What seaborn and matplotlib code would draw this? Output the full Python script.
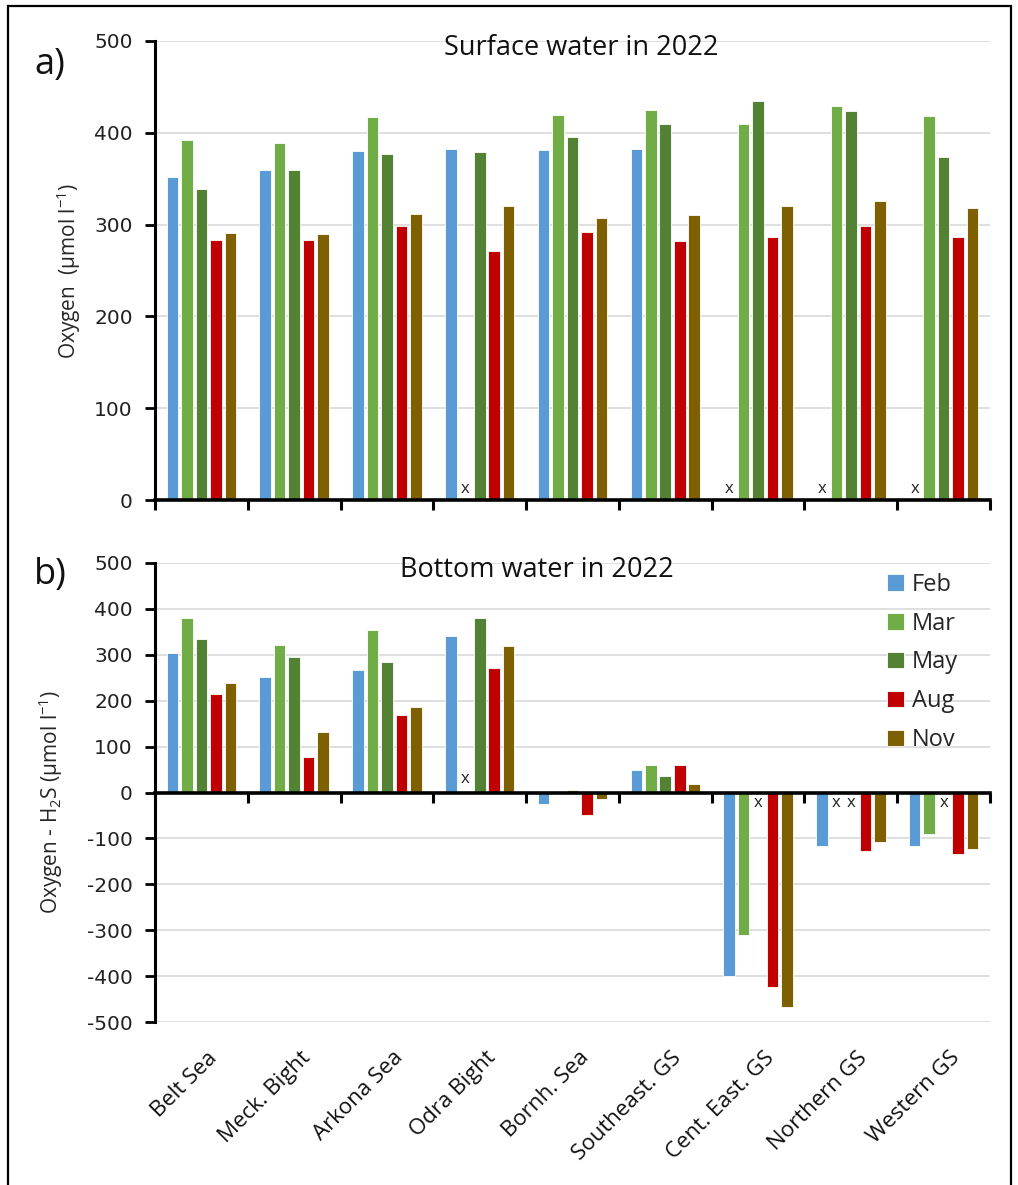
import numpy as np
import pandas as pd
import matplotlib
matplotlib.use("Agg")
import matplotlib.pyplot as plt
import seaborn as sns
from matplotlib.patches import Rectangle
from matplotlib.transforms import blended_transform_factory

regions = ["Belt Sea", "Meck. Bight", "Arkona Sea", "Odra Bight", "Bornh. Sea",
           "Southeast. GS", "Cent. East. GS", "Northern GS", "Western GS"]
months = ["Feb", "Mar", "May", "Aug", "Nov"]
colors = ["#5B9BD5", "#70AD47", "#548235", "#C00000", "#7F6000"]

nan = np.nan
# Surface water (oxygen, umol/l); NaN = not sampled (marked "x")
surf_feb = [352, 360, 380, 382, 381, 382, nan, nan, nan]
surf_mar = [392, 389, 417, nan, 419, 425, 410, 429, 418]
surf_may = [339, 359, 377, 379, 395, 410, 435, 424, 374]
surf_aug = [283, 283, 298, 271, 292, 282, 286, 298, 287]
surf_nov = [291, 290, 312, 320, 307, 310, 320, 326, 318]

# Bottom water (oxygen - H2S, umol/l)
bot_feb = [305, 251, 266, 340, -24, 50, -400, -117, -116]
bot_mar = [380, 322, 354, nan, 0, 59, -311, nan, -91]
bot_may = [335, 295, 284, 380, 6, 36, nan, nan, nan]
bot_aug = [215, 77, 169, 272, -49, 59, -423, -127, -134]
bot_nov = [239, 132, 187, 320, -14, 18, -467, -108, -123]

surf = [surf_feb, surf_mar, surf_may, surf_aug, surf_nov]
bott = [bot_feb, bot_mar, bot_may, bot_aug, bot_nov]

def to_long(series):
    rows = []
    for m, vals in zip(months, series):
        for r, v in zip(regions, vals):
            rows.append({"region": r, "month": m, "value": v})
    return pd.DataFrame(rows)

df_s = to_long(surf)
df_b = to_long(bott)

sns.set_theme(style="white")
plt.rcParams["font.family"] = ["Open Sans", "DejaVu Sans"]
plt.rcParams["axes.unicode_minus"] = False
plt.rcParams["mathtext.default"] = "regular"

W, H = 1018, 1185
fig = plt.figure(figsize=(W / 100, H / 100), dpi=100)
fig.patch.set_facecolor("white")

def frac_axes(l, t, r, b):
    return fig.add_axes([l / W, 1 - b / H, (r - l) / W, (b - t) / H])

ax1 = frac_axes(155, 41, 990, 500)
ax2 = frac_axes(155, 563, 990, 1022)

BW = 0.78
GAP = 0.2
pal = dict(zip(months, colors))

for ax, df, series in [(ax1, df_s, surf), (ax2, df_b, bott)]:
    sns.barplot(data=df.dropna(), x="region", y="value", hue="month",
                order=regions, hue_order=months, palette=pal, width=BW, gap=GAP,
                saturation=1, errorbar=None, edgecolor="white", linewidth=0.6, ax=ax,
                legend=(ax is ax2), zorder=3)
    ax.set_xlim(-0.5, len(regions) - 0.5)
    ax.set_ylim(-500 if ax is ax2 else 0, 500)
    ax.set_yticks(np.arange(-500 if ax is ax2 else 0, 501, 100))
    ax.yaxis.grid(True, color="#d9d9d9", linewidth=1.2, zorder=0)
    ax.xaxis.grid(False)
    ax.set_axisbelow(True)
    for s in ["top", "right"]:
        ax.spines[s].set_visible(False)
    ax.spines["left"].set_linewidth(2.2)
    ax.spines["left"].set_color("black")
    ax.spines["bottom"].set_linewidth(2.6)
    ax.spines["bottom"].set_color("black")
    ax.spines["bottom"].set_zorder(5)
    ax.set_xticks(np.arange(-0.5, len(regions), 1.0))
    ax.set_xticklabels([])
    ax.tick_params(axis="x", direction="out", length=7, width=2.2, color="black", bottom=True)
    ax.tick_params(axis="y", direction="out", length=7, width=2.0, color="black", left=True,
                   labelsize=14.5, pad=9)
    for lab in ax.get_yticklabels():
        lab.set_fontfamily("DejaVu Sans")
        lab.set_color("#222222")
    ax.set_xlabel("")
    # missing-value markers
    step = BW / len(months)
    for j, vals in enumerate(series):
        for i, v in enumerate(vals):
            if np.isnan(v):
                xpos = i + (j - (len(months) - 1) / 2) * step
                if ax is ax1:
                    ypos = 12
                else:
                    ypos = 30 if i < 4 else -22
                ax.text(xpos, ypos, "x", ha="center", va="center", fontsize=12,
                        color="#222222", zorder=6)

ax2.spines["bottom"].set_position(("data", 0))

ax1.set_ylabel("Oxygen  (µmol l$^{-1}$)", fontsize=15)
ax1.yaxis.set_label_coords(-0.086, 0.5)
ax2.set_ylabel("Oxygen - H$_{2}$S (µmol l$^{-1}$)", fontsize=15)
ax2.yaxis.set_label_coords(-0.108, 0.48)

ax1.text(0.511, 0.985, "Surface water in 2022", transform=ax1.transAxes,
         ha="center", va="center", fontsize=19.5, color="#111111")
ax2.text(0.457, 0.985, "Bottom water in 2022", transform=ax2.transAxes,
         ha="center", va="center", fontsize=19.5, color="#111111")

fig.text(50 / W, 1 - 65 / H, "a)", fontsize=26, ha="center", va="center", color="#111111")
fig.text(50 / W, 1 - 575 / H, "b)", fontsize=26, ha="center", va="center", color="#111111")

# category labels under bottom panel
trans = blended_transform_factory(ax2.transData, ax2.transAxes)
for i, r in enumerate(regions):
    ax2.text(i + 0.06, -0.055, r, transform=trans, rotation=45, rotation_mode="anchor",
             ha="right", va="top", fontsize=16, color="#111111")

# legend
handles, labels = ax2.get_legend_handles_labels()
ax2.legend(handles, labels, loc="upper left", bbox_to_anchor=(0.877, 0.979),
           frameon=False, fontsize=17, handlelength=0.7, handleheight=0.7,
           handletextpad=0.35, labelspacing=0.63, borderpad=0, borderaxespad=0)

# outer frame
fig.patches.append(Rectangle((8 / W, -0.05), (1011 - 8) / W, 1 - 6 / H + 0.05,
                             transform=fig.transFigure, fill=False,
                             edgecolor="black", linewidth=1.6))

fig.savefig("out.png", dpi=100)
